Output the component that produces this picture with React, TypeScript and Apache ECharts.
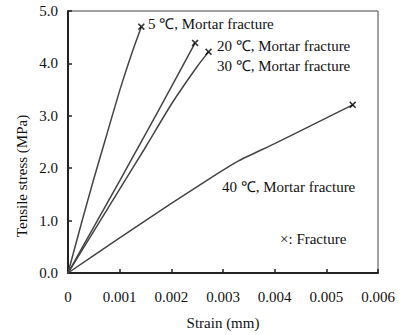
import React, { useEffect, useRef } from "react";
import * as echarts from "echarts";

const strain5 = [0, 0.00026, 0.0005, 0.00075, 0.001, 0.00123, 0.00142];
const stress5 = [0, 0.95, 1.8, 2.64, 3.48, 4.18, 4.7];
const strain20 = [0, 0.0005, 0.001, 0.0015, 0.002, 0.00246];
const stress20 = [0, 0.88, 1.76, 2.65, 3.55, 4.39];
const strain30 = [0, 0.0005, 0.001, 0.0015, 0.002, 0.0025, 0.00272];
const stress30 = [0, 0.8, 1.6, 2.4, 3.22, 3.94, 4.22];
const strain40 = [0, 0.001, 0.002, 0.0029, 0.0033, 0.004, 0.0048, 0.00551];
const stress40 = [0, 0.67, 1.33, 1.9, 2.14, 2.47, 2.86, 3.21];
const fractureStrain = [0.00142, 0.00246, 0.00272, 0.00551];
const fractureStress = [4.7, 4.39, 4.22, 3.21];
const annotations = [
  "5 ℃, Mortar fracture",
  "20 ℃, Mortar fracture",
  "30 ℃, Mortar fracture",
  "40 ℃, Mortar fracture",
  "×: Fracture",
];

const FONT = "Liberation Serif";
const pair = (xs: number[], ys: number[]) => xs.map((x, i) => [x, ys[i]]);

export default function App() {
  const ref = useRef<HTMLDivElement>(null);
  useEffect(() => {
    const chart = echarts.init(ref.current!, null, { renderer: "svg" });
    const lineSeries = (d: number[][]) => ({
      type: "line",
      data: d,
      smooth: 0.2,
      showSymbol: false,
      lineStyle: { color: "#444", width: 1.5 },
    });
    const textStyle = { fontFamily: FONT, fontSize: 15, fill: "#111" };
    chart.setOption({
      animation: false,
      grid: {
        left: 68,
        right: 22,
        top: 11,
        bottom: 62,
        show: true,
        borderColor: "#444",
        borderWidth: 1,
      },
      xAxis: {
        type: "value",
        min: 0,
        max: 0.006,
        interval: 0.001,
        name: "Strain (mm)",
        nameLocation: "middle",
        nameGap: 42,
        nameTextStyle: { fontFamily: FONT, fontSize: 15, color: "#111" },
        axisLine: { lineStyle: { color: "#222", width: 2 } },
        axisTick: { inside: true, length: 4, lineStyle: { color: "#222", width: 1.5 } },
        axisLabel: {
          margin: 16,
          fontFamily: FONT,
          fontSize: 15,
          color: "#111",
          formatter: (v: number) => (v === 0 ? "0" : v.toFixed(3)),
        },
        splitLine: { show: false },
      },
      yAxis: {
        type: "value",
        min: 0,
        max: 5,
        interval: 1,
        axisLine: { show: true, lineStyle: { color: "#222", width: 2 } },
        axisTick: { show: true, inside: true, length: 4, lineStyle: { color: "#222", width: 1.5 } },
        axisLabel: {
          margin: 10,
          fontFamily: FONT,
          fontSize: 15,
          color: "#111",
          formatter: (v: number) => v.toFixed(1),
        },
        splitLine: { show: false },
      },
      series: [
        lineSeries(pair(strain5, stress5)),
        lineSeries(pair(strain20, stress20)),
        lineSeries(pair(strain30, stress30)),
        lineSeries(pair(strain40, stress40)),
        {
          type: "scatter",
          data: pair(fractureStrain, fractureStress),
          symbol:
            "path://M0,1.6L1.6,0L5,3.4L8.4,0L10,1.6L6.6,5L10,8.4L8.4,10L5,6.6L1.6,10L0,8.4L3.4,5Z",
          symbolSize: 7,
          itemStyle: { color: "#000" },
          z: 5,
        },
      ],
      graphic: [
        {
          type: "text",
          x: 22,
          y: 176,
          rotation: Math.PI / 2,
          style: {
            ...textStyle,
            text: "Tensile stress (MPa)",
            textAlign: "center",
            textVerticalAlign: "middle",
          },
        },
        { type: "text", x: 148, y: 24, style: { ...textStyle, text: annotations[0], textVerticalAlign: "middle" } },
        { type: "text", x: 217, y: 46, style: { ...textStyle, text: annotations[1], textVerticalAlign: "middle" } },
        { type: "text", x: 217, y: 66, style: { ...textStyle, text: annotations[2], textVerticalAlign: "middle" } },
        { type: "text", x: 222, y: 187, style: { ...textStyle, text: annotations[3], textVerticalAlign: "middle" } },
        { type: "text", x: 280, y: 239, style: { ...textStyle, text: annotations[4], textVerticalAlign: "middle" } },
      ],
    });
    return () => chart.dispose();
  }, []);
  return (
    <div
      ref={ref}
      style={{ position: "absolute", left: 0, top: 0, width: 400, height: 335 }}
    />
  );
}
